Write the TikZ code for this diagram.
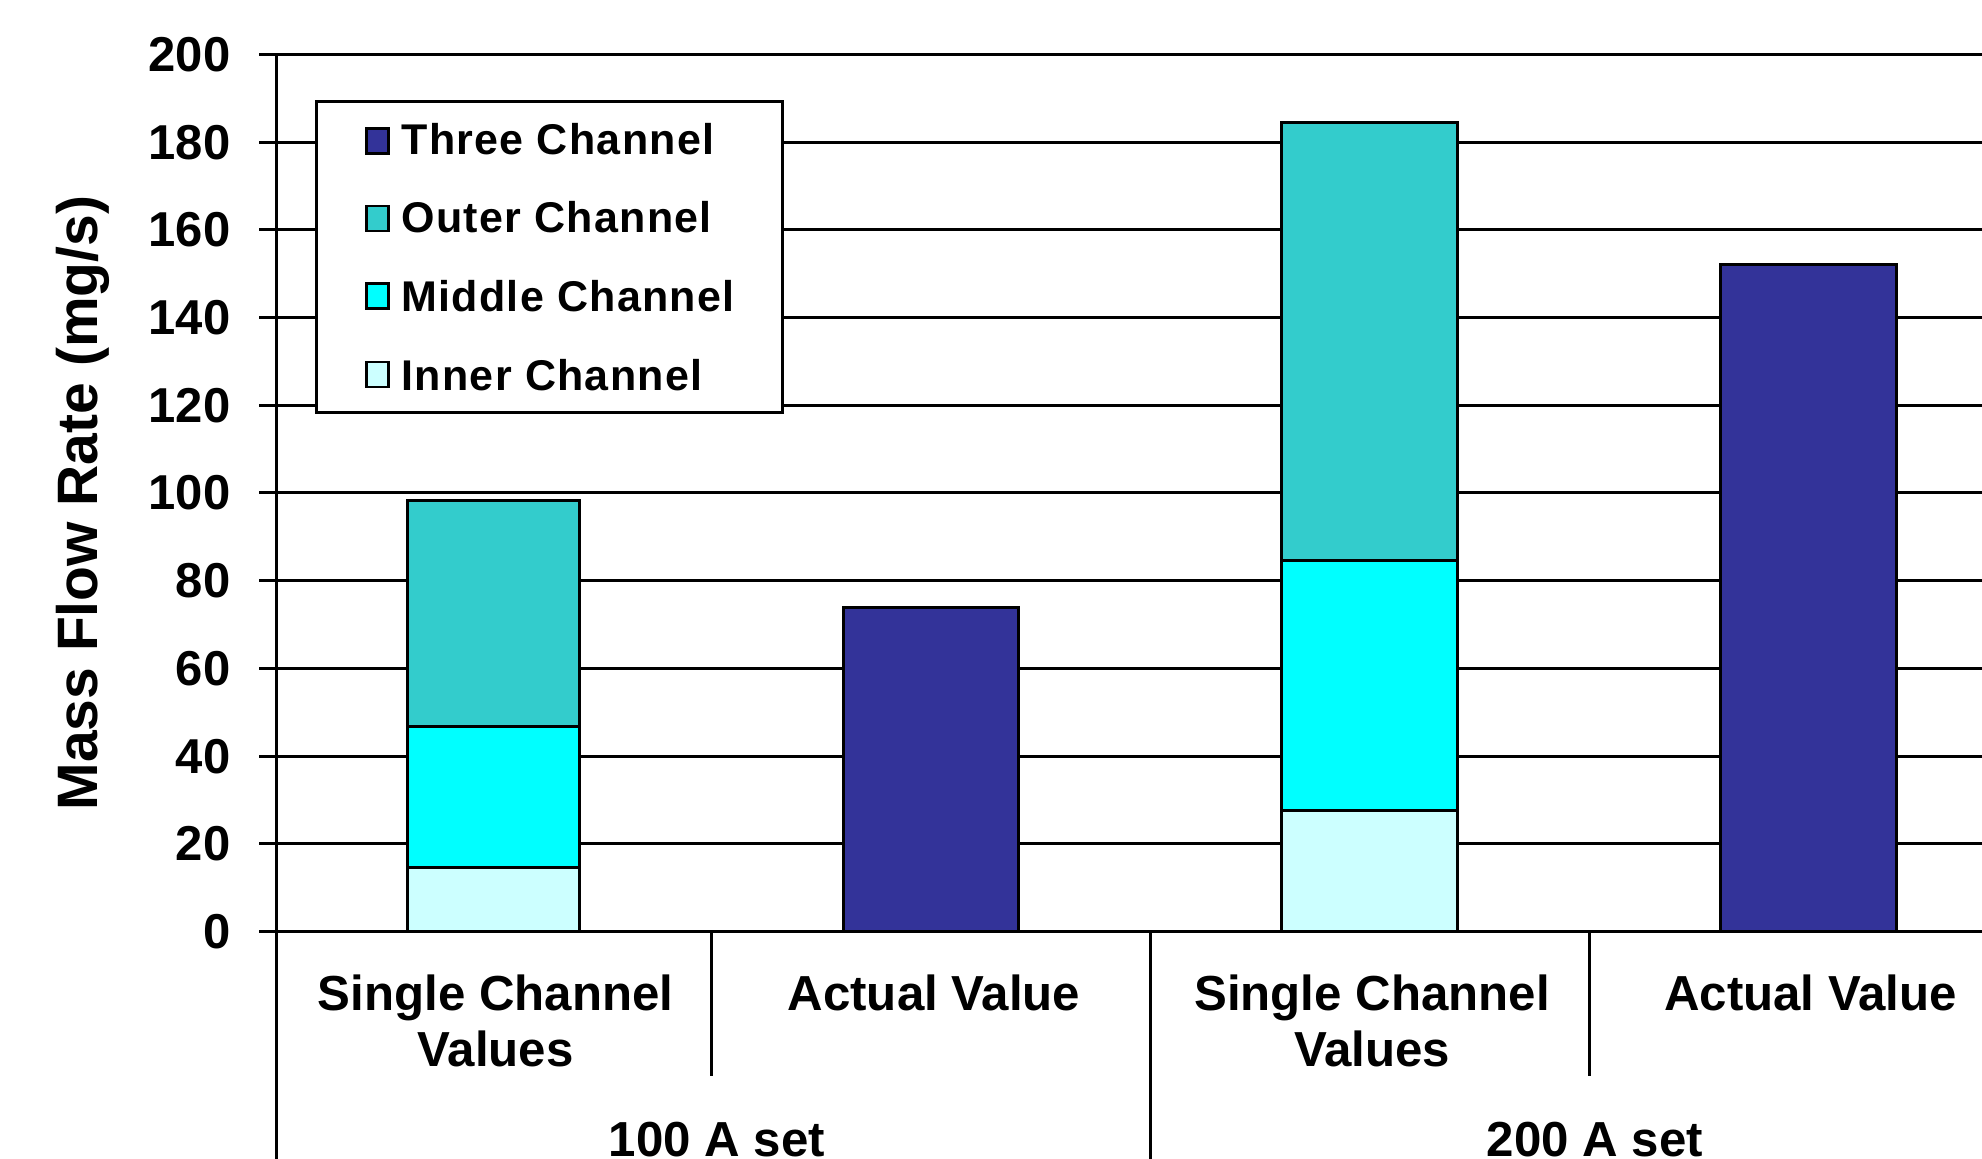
\documentclass[tikz,border=0pt]{standalone}
\usepackage{fontspec}
\setmainfont{Liberation Sans}
\definecolor{cthree}{HTML}{333399}
\definecolor{couter}{HTML}{33CCCC}
\definecolor{cmiddle}{HTML}{00FFFF}
\definecolor{cinner}{HTML}{CCFFFF}
\begin{document}
\begin{tikzpicture}[x=0.5pt,y=-0.5pt,line width=1.5pt,
  gridline/.style={line width=1.5pt,draw=black},
  barseg/.style={draw=black,line width=1.5pt},
  ticklab/.style={anchor=base east,inner sep=0pt,font=\fontsize{24.5}{24.5}\selectfont\bfseries},
  catlab/.style={anchor=base,inner sep=0pt,align=center,font=\fontsize{24.6}{28.35}\selectfont\bfseries},
  leglab/.style={anchor=base west,inner sep=0pt,font=\fontsize{21.5}{21.5}\selectfont\bfseries\addfontfeature{LetterSpace=3}},
  legmark/.style={draw=black,line width=1.2pt}
]
\useasboundingbox (0,0) rectangle (1982,1158);
\clip (0,0) rectangle (1982,1158);
\fill[white] (0,0) rectangle (1982,1158);
% gridlines, ticks, tick labels
\foreach \v in {0,20,...,200}{
  \pgfmathsetmacro\yy{931.5-4.386*\v}
  \draw[gridline] (259,\yy) -- (1985,\yy);
  \node[ticklab] (t\v) at (232,\yy+17) {\v};
}
% bars
\filldraw[barseg,fill=cinner]  (407.7,931.5) rectangle (579.3,867.3);
\filldraw[barseg,fill=cmiddle] (407.7,867.3) rectangle (579.3,726);
\filldraw[barseg,fill=couter]  (407.7,726)   rectangle (579.3,500);
\filldraw[barseg,fill=cthree]  (843.3,931.5) rectangle (1018.3,607.7);
\filldraw[barseg,fill=cinner]  (1281.7,931.5) rectangle (1457.7,810);
\filldraw[barseg,fill=cmiddle] (1281.7,810)   rectangle (1457.7,560.7);
\filldraw[barseg,fill=couter]  (1281.7,560.7) rectangle (1457.7,122);
\filldraw[barseg,fill=cthree]  (1720.7,931.5) rectangle (1896.7,264);
% axis and category separators
\draw[gridline] (276,54.3) -- (276,1165);
\draw[gridline] (259,931.5) -- (1985,931.5);
\draw[gridline] (711.7,931.5) -- (711.7,1076);
\draw[gridline] (1150,931.5) -- (1150,1165);
\draw[gridline] (1589,931.5) -- (1589,1076);
% legend
\filldraw[fill=white,draw=black,line width=1.5pt] (316.7,101.7) rectangle (782.3,412.3);
\filldraw[legmark,fill=cthree]  (366.5,128.3) rectangle (388.5,153.3);
\filldraw[legmark,fill=couter]  (366.5,206)   rectangle (388.5,231);
\filldraw[legmark,fill=cmiddle] (366.5,283.3) rectangle (388.5,308.3);
\filldraw[legmark,fill=cinner]  (366.5,361.7) rectangle (388.5,386.7);
\node[leglab] (l1) at (400,154)   {Three Channel};
\node[leglab] (l2) at (400,232.5) {Outer Channel};
\node[leglab] (l3) at (400,311.5) {Middle Channel};
\node[leglab] (l4) at (400,390.5) {Inner Channel};
% axis title
\node[rotate=90,anchor=base,inner sep=0pt,font=\fontsize{28.5}{28.5}\selectfont\bfseries] (ytitle) at (97,503) {Mass Flow Rate (mg/s)};
% category labels (base anchor = baseline of last line)
\node[catlab] (c1) at (495.5,1066.7) {Single Channel\\Values};
\node[catlab] (c2) at (934,1010) {Actual Value};
\node[catlab] (c3) at (1372,1066.7) {Single Channel\\Values};
\node[catlab] (c4) at (1810.5,1010) {Actual Value};
\node[catlab] (g1) at (717,1156) {100 A set};
\node[catlab] (g2) at (1595,1156) {200 A set};
\end{tikzpicture}
\end{document}
